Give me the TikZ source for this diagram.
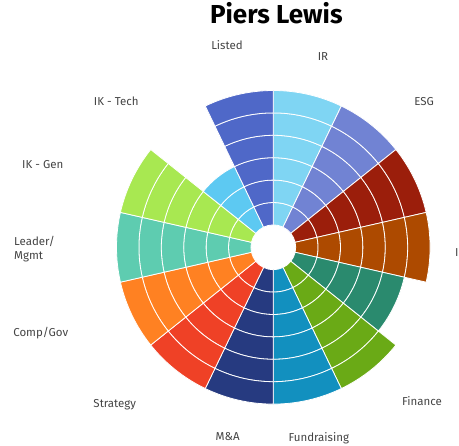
\documentclass[tikz,border=0pt]{standalone}
\usepackage{fontspec}
\setmainfont{Fira Sans}
\definecolor{labgray}{HTML}{444444}
\definecolor{cIR}{HTML}{7FD5F3}
\definecolor{cESG}{HTML}{7183D3}
\definecolor{cCrimson}{HTML}{9B1E0B}
\definecolor{cRust}{HTML}{AD4A00}
\definecolor{cTeal}{HTML}{2A8A6E}
\definecolor{cFinance}{HTML}{6AAA16}
\definecolor{cFundr}{HTML}{1290BF}
\definecolor{cMnA}{HTML}{263A80}
\definecolor{cStrat}{HTML}{EF4126}
\definecolor{cCompGov}{HTML}{FF8122}
\definecolor{cLeader}{HTML}{5ECCB0}
\definecolor{cIKGen}{HTML}{A8E851}
\definecolor{cIKTech}{HTML}{5DC9F2}
\definecolor{cListed}{HTML}{4F68C8}
\tikzset{
cell/.style={draw=white,line width=.8pt},
lab/.style={text=labgray,inner sep=0pt,font=\fontsize{11.5}{14}\selectfont}}
\begin{document}
\begin{tikzpicture}[x=1pt,y=1pt]
\useasboundingbox(-273.3,-198.7)rectangle(185.7,247.3);
\def\Ring{22.4}
\newcommand{\Petal}[3]{
\pgfmathsetmacro{\StartA}{90-#2*360/14}
\pgfmathsetmacro{\EndA}{\StartA-360/14}
\foreach \k in {1,...,#3}{
\draw[cell,fill=#1](\StartA:\k*\Ring)arc[start angle=\StartA,end angle=\EndA,radius=\k*\Ring]
--(\EndA:\k*\Ring+\Ring)arc[start angle=\EndA,end angle=\StartA,radius=\k*\Ring+\Ring]--cycle;}}
\Petal{cIR}{0}{6}
\Petal{cESG}{1}{6}
\Petal{cCrimson}{2}{6}
\Petal{cRust}{3}{6}
\Petal{cTeal}{4}{5}
\Petal{cFinance}{5}{6}
\Petal{cFundr}{6}{6}
\Petal{cMnA}{7}{6}
\Petal{cStrat}{8}{6}
\Petal{cCompGov}{9}{6}
\Petal{cLeader}{10}{6}
\Petal{cIKGen}{11}{6}
\Petal{cIKTech}{12}{3}
\Petal{cListed}{13}{6}
% labels round the wheel
\node[font=\bfseries\fontsize{26}{30}\selectfont,anchor=base](title)at(3,224){Piers Lewis};
\node[lab,anchor=base](listed)at(-46.3,197.3){Listed};
\node[lab,anchor=base](ir)at(49.7,187){IR};
\node[lab,anchor=base](esg)at(150.9,141.3){ESG};
\node[lab,anchor=base west](cut)at(181.6,-9.4){I};
\node[lab,anchor=base](finance)at(148.7,-158.7){Finance};
\node[lab,anchor=base](fundr)at(45.5,-194.4){Fundraising};
\node[lab,anchor=base](mna)at(-45.6,-193.7){M\&A};
\node[lab,anchor=base](strat)at(-158.5,-160){Strategy};
\node[lab,anchor=base](compgov)at(-232.5,-89.4){Comp/Gov};
\node[lab,anchor=west,align=left](leader)at(-259.3,-1.4){Leader/\\Mgmt};
\node[lab,anchor=base](ikgen)at(-230.6,79){IK - Gen};
\node[lab,anchor=base](iktech)at(-157,141.3){IK - Tech};
\end{tikzpicture}
\end{document}
